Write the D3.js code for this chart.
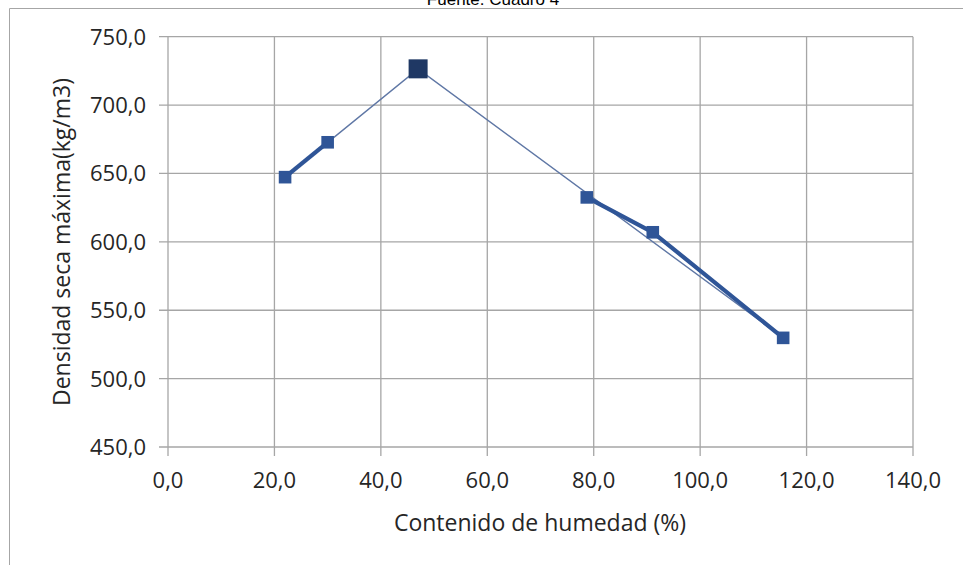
<!DOCTYPE html>
<html>
<head>
<meta charset="utf-8">
<script src="https://cdn.jsdelivr.net/npm/d3@7"></script>
<style>
  html, body { margin: 0; padding: 0; background: #fff; }
  svg { display: block; }
</style>
</head>
<body>
<svg id="chart" width="963" height="565"></svg>
<script>
// Ensayo de compactación: densidad seca máxima vs contenido de humedad
const contenidoHumedad = [22.0, 30.0, 47.0, 78.7, 91.1, 115.6];
const densidadSeca     = [647.3, 672.8, 726.5, 632.5, 607.0, 529.8];

// Tramos de la curva dibujados con trazo grueso (índices de los puntos)
const tramosCurva = [[0, 1], [3, 4, 5]];
// Líneas de referencia hacia el punto máximo
const lineaMaximo = [0, 2, 5];
const indiceMaximo = 2;

const xTicks = [0, 20, 40, 60, 80, 100, 120, 140];
const yTicks = [450, 500, 550, 600, 650, 700, 750];

const titulo = "Fuente: Cuadro 4";
const tituloX = "Contenido de humedad (%)";
const tituloY = "Densidad seca máxima(kg/m3)";

const fmt = v => d3.format(".1f")(v).replace(".", ",");

const svg = d3.select("#chart");
const font = "'Open Sans', 'Noto Sans', sans-serif";

const x = d3.scaleLinear().domain([0, 140]).range([168, 913]);
const y = d3.scaleLinear().domain([450, 750]).range([447, 36.7]);

// Marco exterior
svg.append("path")
  .attr("d", "M9.5,565 V8.5 H963")
  .attr("fill", "none")
  .attr("stroke", "#a6a6a6")
  .attr("stroke-width", 1);

svg.append("text")
  .attr("x", 493).attr("y", 5)
  .attr("text-anchor", "middle")
  .attr("font-family", "'Liberation Sans', Arial, sans-serif")
  .attr("font-size", 17)
  .attr("fill", "#000")
  .text(titulo);

// Rejilla
const grid = svg.append("g").attr("stroke", "#a6a6a6").attr("stroke-width", 1.3);
grid.selectAll("line.v").data(xTicks).join("line")
  .attr("x1", d => x(d)).attr("x2", d => x(d))
  .attr("y1", y(750)).attr("y2", y(450) + 9);
grid.selectAll("line.h").data(yTicks).join("line")
  .attr("x1", x(0) - 9).attr("x2", x(140))
  .attr("y1", d => y(d)).attr("y2", d => y(d));

// Etiquetas de ejes
svg.append("g").selectAll("text").data(xTicks).join("text")
  .attr("x", d => x(d)).attr("y", 488)
  .attr("text-anchor", "middle")
  .attr("font-family", font).attr("font-size", 22).attr("fill", "#262626")
  .text(fmt);

svg.append("g").selectAll("text").data(yTicks).join("text")
  .attr("x", 146).attr("y", d => y(d) + 8)
  .attr("text-anchor", "end")
  .attr("font-family", font).attr("font-size", 22).attr("fill", "#262626")
  .text(fmt);

svg.append("text")
  .attr("x", 540).attr("y", 531)
  .attr("text-anchor", "middle")
  .attr("font-family", font).attr("font-size", 23).attr("fill", "#262626")
  .text(tituloX);

svg.append("text")
  .attr("transform", "translate(70,242) rotate(-90)")
  .attr("text-anchor", "middle")
  .attr("font-family", font).attr("font-size", 23).attr("fill", "#262626")
  .text(tituloY);

const pts = contenidoHumedad.map((h, i) => [x(h), y(densidadSeca[i])]);
const line = d3.line();

// Línea fina de referencia
svg.append("path")
  .attr("d", line(lineaMaximo.map(i => pts[i])))
  .attr("fill", "none")
  .attr("stroke", "#5f77a5")
  .attr("stroke-width", 1.4);

// Curva de compactación (trazo grueso)
svg.append("g").selectAll("path").data(tramosCurva).join("path")
  .attr("d", t => line(t.map(i => pts[i])))
  .attr("fill", "none")
  .attr("stroke", "#2f5597")
  .attr("stroke-width", 4.2)
  .attr("stroke-linejoin", "round");

// Marcadores
const s = 12.6;
svg.append("g").selectAll("rect")
  .data(pts.filter((p, i) => i !== indiceMaximo))
  .join("rect")
  .attr("x", p => p[0] - s / 2).attr("y", p => p[1] - s / 2)
  .attr("width", s).attr("height", s)
  .attr("fill", "#2f5597");

const S = 19;
svg.append("rect")
  .attr("x", pts[indiceMaximo][0] - S / 2).attr("y", pts[indiceMaximo][1] - S / 2)
  .attr("width", S).attr("height", S)
  .attr("fill", "#1f3864");
</script>
</body>
</html>
